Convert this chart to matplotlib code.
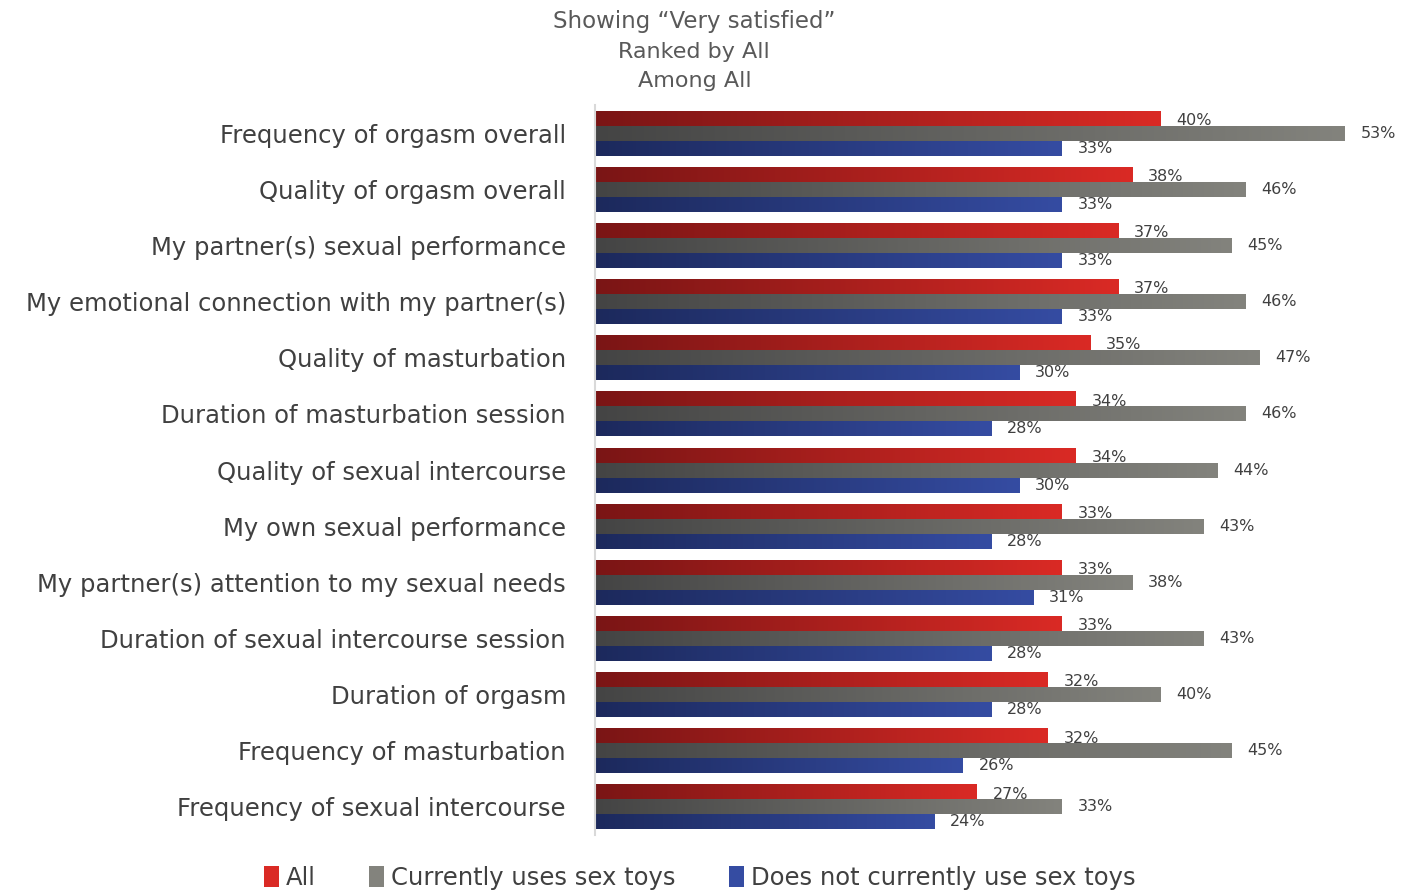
import numpy as np
import matplotlib
matplotlib.use("Agg")
import matplotlib.pyplot as plt
from matplotlib.colors import LinearSegmentedColormap
from matplotlib.patches import Patch

plt.rcParams['font.family'] = ['DejaVu Sans']

# data
categories = [
    "Frequency of orgasm overall",
    "Quality of orgasm overall",
    "My partner(s) sexual performance",
    "My emotional connection with my partner(s)",
    "Quality of masturbation",
    "Duration of masturbation session",
    "Quality of sexual intercourse",
    "My own sexual performance",
    "My partner(s) attention to my sexual needs",
    "Duration of sexual intercourse session",
    "Duration of orgasm",
    "Frequency of masturbation",
    "Frequency of sexual intercourse",
]
all_vals = [40, 38, 37, 37, 35, 34, 34, 33, 33, 33, 32, 32, 27]
toys_vals = [53, 46, 45, 46, 47, 46, 44, 43, 38, 43, 40, 45, 33]
notoys_vals = [33, 33, 33, 33, 30, 28, 30, 28, 31, 28, 28, 26, 24]
series_names = ["All", "Currently uses sex toys", "Does not currently use sex toys"]

# gradient colours (dark -> bright)
grads = [("#7a1515", "#da2a25"), ("#444444", "#83837d"), ("#1c295c", "#354ca2")]

fig = plt.figure(figsize=(14.17, 8.94), dpi=100)
ax = fig.add_axes([0.42, 0.066, 0.549, 0.8165])

h = 0.267
offsets = [-h, 0, h]
grad = np.linspace(0, 1, 256).reshape(1, -1)
series = [all_vals, toys_vals, notoys_vals]

for s, vals in enumerate(series):
    cmap = LinearSegmentedColormap.from_list("g%d" % s, grads[s])
    for i, v in enumerate(vals):
        yc = i + offsets[s]
        ax.imshow(grad, extent=[0, v, yc + h / 2, yc - h / 2], aspect='auto',
                  cmap=cmap, interpolation='bilinear', zorder=2)
        ax.text(v + 1.1, yc + (0.04 if s == 0 else 0), "%d%%" % v, va='center', ha='left',
                fontsize=11.5, color='#404040', clip_on=False)

ax.set_xlim(0, 55)
ax.set_ylim(len(categories) - 0.5, -0.5)
ax.set_yticks(range(len(categories)))
ax.set_yticklabels(categories, fontsize=17.5, color='#404040')
ax.tick_params(axis='y', length=0, pad=21)
ax.set_xticks([])
for side in ['top', 'right', 'bottom']:
    ax.spines[side].set_visible(False)
ax.spines['left'].set_color('#d9d9d9')
ax.spines['left'].set_linewidth(1.5)

# title
fig.text(0.49, 0.976, "Showing \u201cVery satisfied\u201d", ha='center', va='center',
         fontsize=16.5, color='#595959')
fig.text(0.49, 0.942, "Ranked by All", ha='center', va='center', fontsize=16, color='#595959')
fig.text(0.49, 0.909, "Among All", ha='center', va='center', fontsize=16, color='#595959')

handles = [Patch(facecolor=grads[k][1], edgecolor='none') for k in range(3)]
fig.legend(handles, series_names, loc='center', bbox_to_anchor=(0.494, 0.018), ncol=3,
           frameon=False, fontsize=17.5, handlelength=0.6, handleheight=0.9,
           handletextpad=0.3, columnspacing=2.2, labelcolor='#404040')

fig.savefig("out.png", dpi=100)
